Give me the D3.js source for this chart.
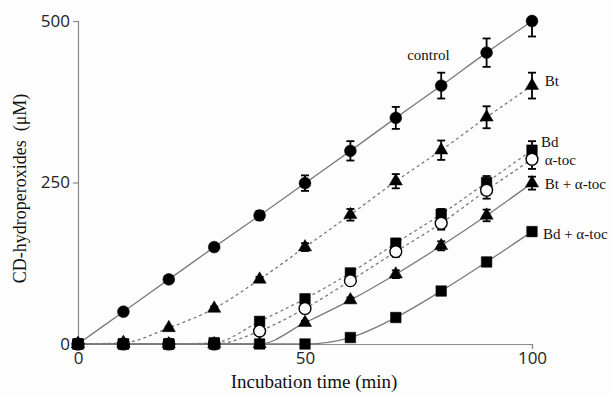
<!DOCTYPE html>
<html>
<head>
<meta charset="utf-8">
<script src="https://cdn.jsdelivr.net/npm/d3@7"></script>
<style>
  html, body { margin: 0; padding: 0; background: #fdfdfd; }
  svg { display: block; }
</style>
</head>
<body>
<svg id="chart" width="611" height="395"></svg>
<script>
// Incubation times (min)
const times = [0, 10, 20, 30, 40, 50, 60, 70, 80, 90, 100];

// CD-hydroperoxide concentrations (µM) per condition
const control   = [0, 50, 100, 150, 199, 249, 299, 350, 400, 451, 500];
const bt        = [0, 2, 25, 55, 100, 150, 200, 252, 300, 351, 400];
const bd        = [0, 0, 0, 2, 35, 70, 110, 156, 201, 250, 300];
const aToc      = [0, 0, 0, 0, 20, 55, 98, 143, 187, 238, 286];
const btAToc    = [0, 0, 0, 0, 0, 33, 68, 108, 152, 199, 249];
const bdAToc    = [0, 0, 0, 0, 0, 0, 10, 41, 82, 127, 174];

// Standard deviations (µM)
const controlErr = [0, 0, 0, 0, 7, 12, 15, 17, 20, 22, 24];
const btErr      = [0, 0, 2, 3, 4, 6, 9, 11, 15, 17, 20];
const bdErr      = [0, 0, 0, 0, 3, 5, 6, 7, 8, 10, 14];
const aTocErr    = [0, 0, 0, 0, 3, 5, 6, 8, 10, 13, 15];
const btATocErr  = [0, 0, 0, 0, 0, 3, 4, 6, 7, 9, 10];
const bdATocErr  = [0, 0, 0, 0, 0, 0, 2, 3, 4, 5, 6];

const seriesNames = ["control", "Bt", "Bd", "α-toc", "Bt + α-toc", "Bd + α-toc"];

// Tick values
const xTicks = [0, 50, 100];
const yTicks = [0, 250, 500];

const series = [
  { name: seriesNames[0], values: control, err: controlErr, marker: "circle",   fill: "#000", dashed: false },
  { name: seriesNames[1], values: bt,      err: btErr,      marker: "triangle", fill: "#000", dashed: true },
  { name: seriesNames[2], values: bd,      err: bdErr,      marker: "square",   fill: "#000", dashed: true },
  { name: seriesNames[3], values: aToc,    err: aTocErr,    marker: "circle",   fill: "#fff", dashed: true },
  { name: seriesNames[4], values: btAToc,  err: btATocErr,  marker: "triangle", fill: "#000", dashed: false },
  { name: seriesNames[5], values: bdAToc,  err: bdATocErr,  marker: "square",   fill: "#000", dashed: false }
];

// Label anchors: [x time, y value] where the series name sits
const labelPos = [
  { t: 72.5, v: 440 },
  { t: 102.8, v: 400 },
  { t: 102.0, v: 305 },
  { t: 102.8, v: 277 },
  { t: 102.8, v: 240 },
  { t: 102.4, v: 163 }
];

const svg = d3.select("#chart");
const x = d3.scaleLinear().domain([0, 100]).range([78, 532]);
const y = d3.scaleLinear().domain([0, 500]).range([344, 21]);

const axisColor = "#8a8a8a";

// Y axis
const yAxis = svg.append("g")
  .attr("transform", `translate(${x(0)},0)`)
  .call(d3.axisLeft(y).tickValues(yTicks).tickSize(5).tickPadding(3));
yAxis.select(".domain").attr("stroke", axisColor).attr("stroke-width", 1.2);
yAxis.selectAll(".tick line").attr("stroke", axisColor).attr("stroke-width", 1.2);
yAxis.selectAll(".tick text")
  .attr("font-family", "'Open Sans', sans-serif")
  .attr("font-size", 17)
  .attr("fill", "#222");

// X axis
const xAxis = svg.append("g")
  .attr("transform", `translate(0,${y(0)})`)
  .call(d3.axisBottom(x).tickValues(xTicks).tickSize(5).tickPadding(3));
xAxis.select(".domain").attr("stroke", axisColor).attr("stroke-width", 1.2);
xAxis.selectAll(".tick line").attr("stroke", axisColor).attr("stroke-width", 1.2);
xAxis.selectAll(".tick text")
  .attr("font-family", "'Open Sans', sans-serif")
  .attr("font-size", 17)
  .attr("fill", "#222");

// Axis titles
svg.append("text")
  .attr("transform", `translate(26,${(y(0) + y(500)) / 2 + 6}) rotate(-90)`)
  .attr("text-anchor", "middle")
  .attr("font-family", "'Liberation Serif', 'Times New Roman', serif")
  .attr("font-size", 18)
  .attr("fill", "#111")
  .attr("xml:space", "preserve")
  .text("CD-hydroperoxides  (μM)");

svg.append("text")
  .attr("x", 314)
  .attr("y", 388)
  .attr("text-anchor", "middle")
  .attr("font-family", "'Liberation Serif', 'Times New Roman', serif")
  .attr("font-size", 19)
  .attr("fill", "#111")
  .text("Incubation time (min)");

// Lines
const line = d3.line()
  .x((d, i) => x(times[i]))
  .y(d => y(d))
  .curve(d3.curveMonotoneX);

svg.append("g").selectAll("path")
  .data(series)
  .join("path")
  .attr("d", s => line(s.values))
  .attr("fill", "none")
  .attr("stroke", "#7a7a7a")
  .attr("stroke-width", 1.3)
  .attr("stroke-dasharray", s => s.dashed ? "3,3" : null);

// Error bars (clipped at the top of the value axis)
svg.append("clipPath").attr("id", "plotclip")
  .append("rect")
  .attr("x", 0).attr("y", y(500))
  .attr("width", 611).attr("height", y(0) - y(500) + 20);

const errG = svg.append("g").attr("clip-path", "url(#plotclip)");
series.forEach(s => {
  s.values.forEach((v, i) => {
    const e = s.err[i];
    if (!e) return;
    const cx = x(times[i]);
    const g = errG.append("g").attr("stroke", "#000").attr("stroke-width", 1.8);
    g.append("line").attr("x1", cx).attr("x2", cx).attr("y1", y(v - e)).attr("y2", y(v + e));
    g.append("line").attr("x1", cx - 4).attr("x2", cx + 4).attr("y1", y(v + e)).attr("y2", y(v + e));
    g.append("line").attr("x1", cx - 4).attr("x2", cx + 4).attr("y1", y(v - e)).attr("y2", y(v - e));
  });
});

// Markers
const symbolPath = {
  circle: d3.symbol().type(d3.symbolCircle).size(110)(),
  square: d3.symbol().type(d3.symbolSquare).size(112)(),
  triangle: d3.symbol().type(d3.symbolTriangle).size(75)()
};

series.forEach(s => {
  svg.append("g").selectAll("path")
    .data(s.values)
    .join("path")
    .attr("transform", (d, i) => `translate(${x(times[i])},${y(d)})`)
    .attr("d", symbolPath[s.marker])
    .attr("fill", s.fill)
    .attr("stroke", "#000")
    .attr("stroke-width", s.fill === "#fff" ? 1.4 : 0.5);
});

// Series names
svg.append("g").selectAll("text")
  .data(series)
  .join("text")
  .attr("x", (s, i) => x(labelPos[i].t))
  .attr("y", (s, i) => y(labelPos[i].v))
  .attr("font-family", "'Liberation Serif', 'Times New Roman', serif")
  .attr("font-size", 15)
  .attr("fill", "#111")
  .text(s => s.name);
</script>
</body>
</html>
